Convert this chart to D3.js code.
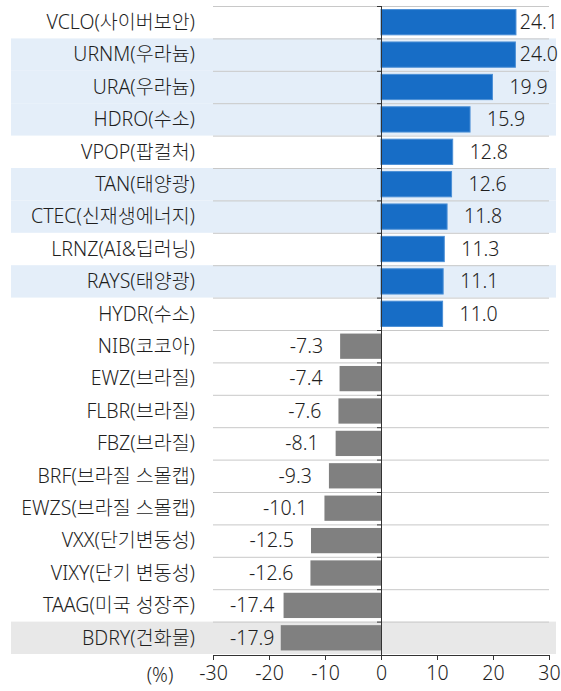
<!DOCTYPE html>
<html>
<head>
<meta charset="utf-8">
<script src="https://cdn.jsdelivr.net/npm/d3@7"></script>
<style>
  body { margin: 0; background: #fff; }
  svg text { font-family: "Noto Sans", "Noto Sans CJK KR", sans-serif; font-weight: 300; fill: #1e1e1e; }
</style>
</head>
<body>
<svg id="chart"></svg>
<script>
const categories = [
  "VCLO(사이버보안)", "URNM(우라늄)", "URA(우라늄)", "HDRO(수소)", "VPOP(팝컬처)",
  "TAN(태양광)", "CTEC(신재생에너지)", "LRNZ(AI&딥러닝)", "RAYS(태양광)", "HYDR(수소)",
  "NIB(코코아)", "EWZ(브라질)", "FLBR(브라질)", "FBZ(브라질)", "BRF(브라질 스몰캡)",
  "EWZS(브라질 스몰캡)", "VXX(단기변동성)", "VIXY(단기 변동성)", "TAAG(미국 성장주)", "BDRY(건화물)"
];
const values = [24.1, 24.0, 19.9, 15.9, 12.8, 12.6, 11.8, 11.3, 11.1, 11.0,
  -7.3, -7.4, -7.6, -8.1, -9.3, -10.1, -12.5, -12.6, -17.4, -17.9];
// row highlight: "b" = blue band, "g" = gray band, "" = none
const highlight = ["", "b", "b", "b", "", "b", "b", "", "b", "",
  "", "", "", "", "", "", "", "", "", "g"];
const xTicks = [-30, -20, -10, 0, 10, 20, 30];

const width = 561, height = 691;
const fontSize = "19.5px";
const data = categories.map((c, i) => ({ name: c, value: values[i], hl: highlight[i] }));

const svg = d3.select("#chart").attr("width", width).attr("height", height);

const x = d3.scaleLinear([-30, 30], [213, 549]);
const y = d3.scaleBand(categories, [6, 654]).paddingInner(0.22).paddingOuter(0.11);
const step = y.step();
const rowTop = (d) => y(d) - step * 0.11;

// highlight bands
svg.append("g")
  .selectAll("rect")
  .data(data.filter((d) => d.hl))
  .join("rect")
  .attr("x", 11)
  .attr("width", 545)
  .attr("y", (d) => rowTop(d.name))
  .attr("height", step)
  .attr("fill", (d) => (d.hl === "b" ? "#e4eef9" : "#e8e8e8"));

// row separators
svg.append("g")
  .attr("stroke", "#c8c8c8")
  .selectAll("line")
  .data(categories)
  .join("line")
  .attr("x1", x(-30))
  .attr("x2", x(30))
  .attr("y1", (d) => rowTop(d) + 0.5)
  .attr("y2", (d) => rowTop(d) + 0.5);

// bars
svg.append("g")
  .selectAll("rect")
  .data(data)
  .join("rect")
  .attr("x", (d) => x(Math.min(0, d.value)))
  .attr("width", (d) => Math.abs(x(d.value) - x(0)))
  .attr("y", (d) => y(d.name))
  .attr("height", y.bandwidth())
  .attr("fill", (d) => (d.value >= 0 ? "#176dc6" : "#808080"))
  .attr("stroke", (d) => (d.value >= 0 ? "#4b8fd6" : "none"))
  .attr("stroke-width", 1);

// category labels
svg.append("g")
  .attr("text-anchor", "end")
  .style("font-size", fontSize)
  .selectAll("text")
  .data(data)
  .join("text")
  .attr("x", 195)
  .attr("y", (d) => y(d.name) + y.bandwidth() / 2)
  .attr("dy", "0.35em")
  .text((d) => d.name);

// value labels
const gap = 17;
svg.append("g")
  .style("font-size", fontSize)
  .selectAll("text")
  .data(data)
  .join("text")
  .attr("y", (d) => y(d.name) + y.bandwidth() / 2)
  .attr("dy", "0.35em")
  .text((d) => d.value.toFixed(1))
  .each(function (d) {
    const w = this.getComputedTextLength();
    let left;
    if (d.value >= 0) left = Math.min(x(d.value) + gap, 558 - w);
    else left = Math.max(x(d.value) - gap - w, 230);
    d3.select(this).attr("x", left);
  });

// zero line with row ticks
const zero = svg.append("g").attr("stroke", "#333");
zero.append("line")
  .attr("x1", x(0) + 0.5).attr("x2", x(0) + 0.5)
  .attr("y1", 6).attr("y2", 655);
zero.selectAll("line.tk")
  .data(categories)
  .join("line")
  .attr("class", "tk")
  .attr("x1", x(0) - 4).attr("x2", x(0))
  .attr("y1", (d) => rowTop(d) + 0.5)
  .attr("y2", (d) => rowTop(d) + 0.5);

// x axis
const xAxis = d3.axisBottom(x).tickValues(xTicks).tickSize(5).tickSizeOuter(0)
  .tickFormat(d3.format("d"));
svg.append("g")
  .attr("transform", `translate(0,655)`)
  .call(xAxis)
  .call((g) => g.select(".domain").attr("stroke", "#333"))
  .call((g) => g.selectAll(".tick line").attr("stroke", "#333"))
  .call((g) => g.selectAll(".tick text")
    .attr("y", 11)
    .style("font-size", fontSize)
    .style("font-family", '"Noto Sans", "Noto Sans CJK KR", sans-serif')
    .attr("fill", "#1e1e1e")
    .text((d) => (d < 0 ? "-" + Math.abs(d) : d)));

svg.append("text")
  .attr("x", 160)
  .attr("y", 682)
  .attr("text-anchor", "middle")
  .style("font-size", fontSize)
  .text("(%)");
</script>
</body>
</html>
